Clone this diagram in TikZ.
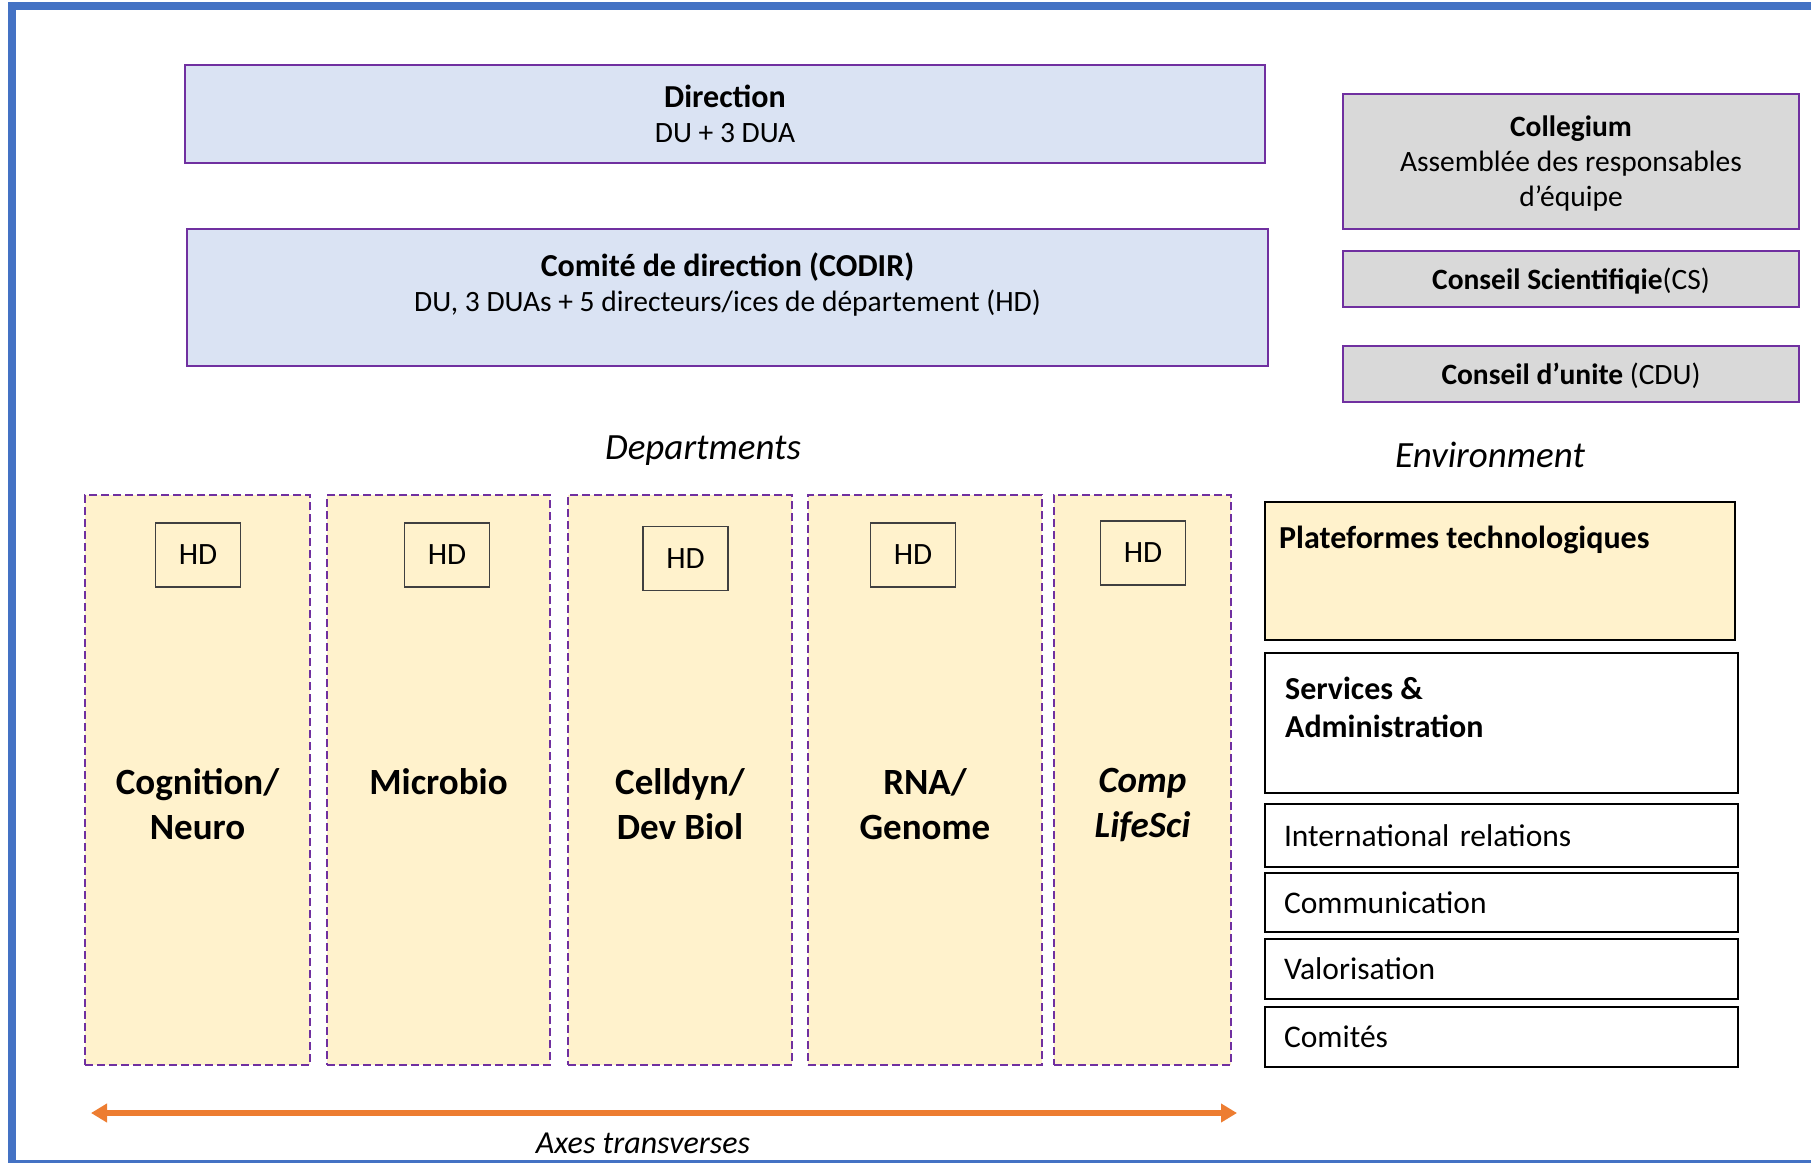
\documentclass[tikz,border=0pt]{standalone}
\usepackage{fontspec}
\setmainfont{Carlito}
\usetikzlibrary{positioning, arrows.meta}
\definecolor{frameblue}{HTML}{4472C4}
\definecolor{boardpurple}{HTML}{7030A0}
\definecolor{dirblue}{HTML}{DAE3F3}
\definecolor{councilgray}{HTML}{D9D9D9}
\definecolor{deptyellow}{HTML}{FFF2CC}
\definecolor{axisorange}{HTML}{ED7D31}
\newcommand\BoxFont{\fontsize{29.5}{35}\selectfont}
\newcommand\TitleFont{\fontsize{32}{36}\selectfont\bfseries}
\newcommand\DeptFont{\fontsize{37}{45}\selectfont\bfseries}
\newcommand\HeadFont{\fontsize{37}{42}\selectfont\itshape}

\begin{document}
\begin{tikzpicture}[x=1pt,y=-1pt,>={Triangle[length=16pt,width=18pt]},
  board/.style={draw=boardpurple,line width=2.8pt,fill=dirblue,inner sep=0pt,
    outer sep=0pt,align=center,font=\BoxFont},
  council/.style={board,fill=councilgray,minimum width=456pt,text depth=0pt},
  dept/.style={draw=boardpurple,line width=2.8pt,dash pattern=on 8pt off 4pt,
    fill=deptyellow,inner sep=0pt,minimum height=570pt},
  deptname/.style={inner sep=0pt,align=center,font=\DeptFont},
  hd/.style={draw=black!75,line width=1.5pt,minimum width=85pt,
    minimum height=64pt,font=\fontsize{31}{36}\selectfont},
  env/.style={draw=black,line width=2.2pt,inner sep=0pt,minimum width=473pt,
    font=\fontsize{31.5}{36}\selectfont},
  envline/.style={env,text width=435pt,align=left},
  heading/.style={inner sep=0pt,font=\HeadFont}]
\useasboundingbox (0,0) rectangle (1811,1162);
\begin{scope}
\clip (0,0) rectangle (1811,1162);
\draw[frameblue,line width=8pt] (12,6) rectangle (1830,1164);
\end{scope}

% direction
\node[board,minimum width=1080pt,minimum height=98pt,text depth=0pt] (dir) at (725,114)
  {{\TitleFont Direction}\\DU + 3 DUA};
\node[board,minimum width=1081pt,minimum height=137pt] (codir) at (727.5,297.5) {};
\node[inner sep=0pt,align=center,font=\BoxFont,below=23.5pt of codir.north] (codirtxt)
  {{\TitleFont Comité de direction (CODIR)}\\DU, 3 DUAs + 5 directeurs/ices de département (HD)};

% councils
\node[council,minimum height=135pt] (coll) at (1571,161.5)
  {\textbf{Collegium}\\Assemblée des responsables\\d’équipe};
\node[council,minimum height=56pt] (cs) at (1571,279)
  {\textbf{Conseil Scientifiqie}(CS)};
\node[council,minimum height=56pt] (cdu) at (1571,374)
  {\textbf{Conseil d’unite} (CDU)};

\node[heading] (depts) at (703,451) {Departments};
\node[heading] (envir) at (1490,455) {Environment};

% departments
\node[dept,minimum width=225pt] (cogn) at (197.5,780) {};
\node[dept,minimum width=223pt] (micro) at (438.5,780) {};
\node[dept,minimum width=224pt] (cell) at (680,780) {};
\node[dept,minimum width=234pt] (rna) at (925,780) {};
\node[dept,minimum width=177pt] (comp) at (1142.5,780) {};

\node[hd] (hdcogn) at (198,555) {HD};
\node[hd] (hdmicro) at (447,555) {HD};
\node[hd] (hdcell) at (685.5,558.5) {HD};
\node[hd] (hdrna) at (913,555) {HD};
\node[hd] (hdcomp) at (1143,553) {HD};

\node[deptname,below=-11.5pt of cogn.center] (cognname) {Cognition/\\Neuro};
\node[deptname,below=-11.5pt of micro.center] (microname) {Microbio};
\node[deptname,below=-11.5pt of cell.center] (cellname) {Celldyn/\\Dev Biol};
\node[deptname,below=-11.5pt of rna.center] (rnaname) {RNA/\\Genome};
\node[deptname,below=-11.5pt of comp.center,font=\DeptFont\itshape] (compname) {Comp\\LifeSci};

% environment
\node[env,fill=deptyellow,minimum width=470pt,minimum height=138pt] (plat) at (1500,571) {};
\node[inner sep=0pt,font=\fontsize{32}{38}\selectfont\bfseries,
  below right=24.5pt and 15pt of plat.north west] (platname) {Plateformes technologiques};
\node[env,minimum height=140pt] (serv) at (1501.5,723) {};
\node[inner sep=0pt,align=left,font=\fontsize{32}{38}\selectfont\bfseries,
  below right=25pt and 21pt of serv.north west] (servname) {Services \&\\Administration};
\node[envline,minimum height=63pt] (intl) at (1501.5,835.5) {International relations};
\node[envline,minimum height=59pt] (comm) at (1501.5,902.5) {Communication};
\node[envline,minimum height=60pt] (valo) at (1501.5,969) {Valorisation};
\node[envline,minimum height=60pt] (comites) at (1501.5,1037) {Comités};

% transverse axes
\coordinate (axleft) at (91,1113);
\coordinate (axright) at (1237,1113);
\draw[<->,axisorange,line width=6pt] (axleft) -- (axright);
\node[inner sep=0pt,font=\fontsize{32}{36}\selectfont\itshape] (axes) at (643,1143)
  {Axes transverses};
\end{tikzpicture}
\end{document}
